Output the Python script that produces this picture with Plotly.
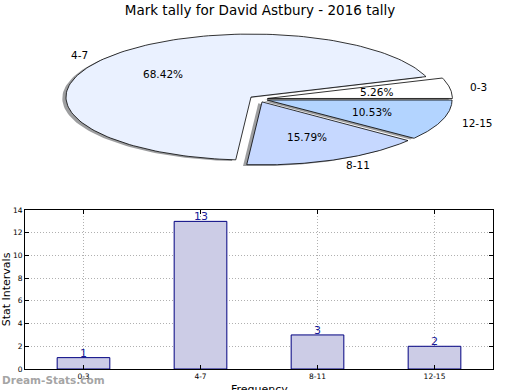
import numpy as np
import plotly.graph_objects as go

# ---------------- data ----------------
categories = ['0-3', '4-7', '8-11', '12-15']
tally = [1, 13, 3, 2]
pie_colors = ['#ffffff', '#eaf1ff', '#c6d8ff', '#b3d4ff']
explode = [0.05, 0.05, 0.05, 0.05]
y_ticks = [0, 2, 4, 6, 8, 10, 12, 14]

FONT = 'DejaVu Sans'
fig = go.Figure()

# ---------------- pie (drawn on a squashed cartesian axis) ----------------
total = float(sum(tally))
start = 0.0
wedges = []
for i, v in enumerate(tally):
    end = start + 360.0 * v / total
    tm = np.radians((start + end) / 2.0)
    cx, cy = explode[i] * np.cos(tm), explode[i] * np.sin(tm)
    ang = np.radians(np.linspace(start, end, 150))
    xs = np.concatenate([[cx], cx + np.cos(ang), [cx]])
    ys = np.concatenate([[cy], cy + np.sin(ang), [cy]])
    wedges.append((xs, ys, tm, cx, cy, v))
    start = end

# shadows first
for xs, ys, tm, cx, cy, v in wedges:
    fig.add_trace(go.Scatter(x=xs - 0.02, y=ys - 0.02, xaxis='x2', yaxis='y2',
                             mode='lines', fill='toself',
                             fillcolor='rgba(60,62,66,0.5)',
                             line=dict(width=0), hoverinfo='skip', showlegend=False))
for i, (xs, ys, tm, cx, cy, v) in enumerate(wedges):
    fig.add_trace(go.Scatter(x=xs, y=ys, xaxis='x2', yaxis='y2',
                             mode='lines', fill='toself', fillcolor=pie_colors[i],
                             line=dict(color='black', width=0.8),
                             hoverinfo='skip', showlegend=False))

annotations = []
for i, (xs, ys, tm, cx, cy, v) in enumerate(wedges):
    lx = cx + 1.1 * np.cos(tm)
    ly = cy + 1.1 * np.sin(tm)
    annotations.append(dict(x=lx, y=ly, xref='x2', yref='y2', text=categories[i],
                            showarrow=False, xanchor='left' if lx > 0 else 'right',
                            yanchor='middle', font=dict(family=FONT, size=10.5, color='black')))
    px = cx + 0.6 * np.cos(tm)
    py = cy + 0.6 * np.sin(tm)
    annotations.append(dict(x=px, y=py, xref='x2', yref='y2',
                            text='%.2f%%' % (100.0 * v / total),
                            showarrow=False, xanchor='center', yanchor='middle',
                            font=dict(family=FONT, size=10.5, color='black')))

# ---------------- bar chart ----------------
fig.add_trace(go.Bar(x=categories, y=tally, width=0.45,
                     marker=dict(color='#ccccE6', line=dict(color='#000080', width=1)),
                     hoverinfo='skip', showlegend=False))
for c, v in zip(categories, tally):
    annotations.append(dict(x=c, y=v, xref='x', yref='y', text=str(v), showarrow=False,
                            xanchor='center', yanchor='bottom', yshift=-4,
                            font=dict(family=FONT, size=11, color='#1a1a99')))

W, H = 520, 390
# x-axis title (partly cut off at the bottom edge, as in the original)
annotations.append(dict(x=259 / W, y=1 - 389 / H, xref='paper', yref='paper',
                        text='Frequency', showarrow=False, xanchor='center', yanchor='middle',
                        font=dict(family=FONT, size=11, color='black')))
annotations.append(dict(x=0, y=1 - 380 / H, xref='paper', yref='paper',
                        text='<b>Dream-Stats.com</b>', showarrow=False,
                        xanchor='left', yanchor='middle',
                        font=dict(family=FONT, size=10.5, color='rgba(140,140,140,0.8)')))

rx, ry = 185.0, 63.0
cxp, cyp = 258.3, 99.0
pie_h = 195.0

axis_style = dict(showline=True, mirror='ticks', linecolor='black', linewidth=1,
                  ticks='inside', ticklen=4, tickcolor='black', automargin=False,
                  showgrid=True, gridcolor='#b0b0b0', griddash='1px,2px', gridwidth=1,
                  zeroline=False, tickfont=dict(family=FONT, size=7.5, color='black'))

fig.update_layout(
    width=W, height=H, margin=dict(l=0, r=0, t=0, b=0),
    paper_bgcolor='white', plot_bgcolor='white',
    title=dict(text='Mark tally for David Astbury - 2016 tally', x=0.5, xanchor='center',
               y=1 - 10 / 390.0, yanchor='middle',
               font=dict(family=FONT, size=13.5, color='black')),
    xaxis=dict(domain=[25 / W, 493 / W], anchor='y', range=[-0.5, 3.5], **axis_style),
    yaxis=dict(domain=[21 / H, 180 / H], anchor='x', range=[0, 14], tickvals=y_ticks,
               title=dict(text='Stat Intervals', standoff=8,
                          font=dict(family=FONT, size=11, color='black')),
               **axis_style),
    xaxis2=dict(domain=[0, 1], anchor='y2', visible=False,
                range=[-cxp / rx, (W - cxp) / rx]),
    yaxis2=dict(domain=[1 - pie_h / H, 1], anchor='x2', visible=False,
                range=[-(pie_h - cyp) / ry, cyp / ry]),
    annotations=annotations,
)

fig.write_html('out.html', config={'displayModeBar': False},
               post_script="document.body.style.margin='0';document.body.style.overflow='hidden';")
